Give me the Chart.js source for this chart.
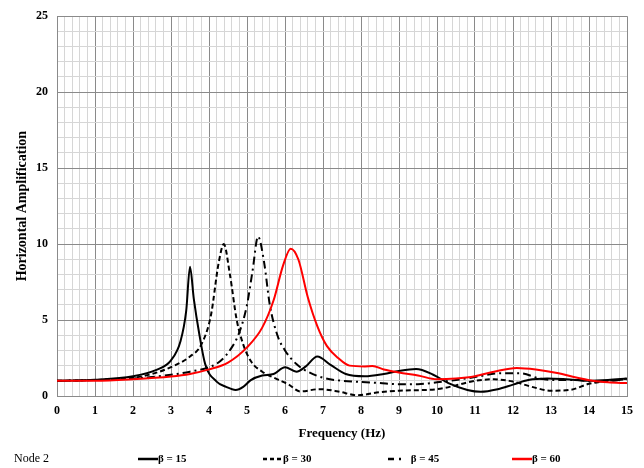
<!DOCTYPE html>
<html><head><meta charset="utf-8">
<script src="https://cdn.jsdelivr.net/npm/chart.js@4/dist/chart.umd.min.js"></script>
<style>
html,body{margin:0;padding:0;background:#fff;}
#wrap{position:relative;width:644px;height:468px;overflow:hidden;}
#c{position:absolute;left:0;top:0;}
.lg{position:absolute;top:450px;height:16px;font-family:"Liberation Serif",serif;font-size:11px;font-weight:bold;color:#000;line-height:16px;white-space:nowrap;}
.lg svg{vertical-align:middle;}
#node{position:absolute;left:14px;top:450px;font-family:"Liberation Serif",serif;font-size:12px;color:#000;line-height:16px;}
</style></head>
<body>
<div id="wrap">
<canvas id="c" width="644" height="468"></canvas>
<div id="node">Node 2</div>
<div class="lg" style="left:138px"><svg width="20" height="6"><line x1="0" y1="3" x2="20" y2="3" stroke="#000" stroke-width="2.5"/></svg><span>β = 15</span></div>
<div class="lg" style="left:263px"><svg width="20" height="6"><line x1="0" y1="3" x2="20" y2="3" stroke="#000" stroke-width="2.5" stroke-dasharray="4,3"/></svg><span>β = 30</span></div>
<div class="lg" style="left:388px"><svg width="20" height="6"><line x1="0" y1="3" x2="16" y2="3" stroke="#000" stroke-width="2.5" stroke-dasharray="6,5,2,5"/></svg><span>&nbsp;β = 45</span></div>
<div class="lg" style="left:512px"><svg width="20" height="6"><line x1="0" y1="3" x2="20" y2="3" stroke="#ff0000" stroke-width="2.5"/></svg><span>β = 60</span></div>
</div>
<script>
// β = 15
const freq15 = [0,1,2,2.6,3.0,3.25,3.4,3.5,3.6,3.75,3.9,4.2,4.45,4.7,4.9,5.1,5.4,5.7,6.0,6.3,6.55,6.85,7.2,7.6,8.1,8.6,9.0,9.45,9.9,10.3,10.8,11.15,11.6,12.0,12.4,12.9,13.4,14.0,14.5,15];
const amp15  = [1.0,1.07,1.3,1.7,2.35,3.6,5.6,8.5,6.4,4.0,2.1,0.95,0.6,0.4,0.6,1.05,1.35,1.45,1.9,1.6,1.95,2.6,2.05,1.45,1.3,1.45,1.65,1.77,1.4,0.85,0.4,0.28,0.45,0.75,1.05,1.15,1.1,1.0,1.05,1.15];
// β = 30
const freq30 = [0,1,2,2.5,3.0,3.5,3.8,4.05,4.25,4.39,4.55,4.73,4.9,5.1,5.4,5.8,6.1,6.4,6.9,7.4,7.9,8.5,9.0,10.0,10.5,11.0,11.5,12.0,12.5,13.0,13.5,14.0,14.5,15];
const amp30  = [1.0,1.05,1.2,1.45,1.9,2.6,3.4,5.3,8.7,10.0,8.0,5.0,3.4,2.3,1.6,1.1,0.75,0.3,0.45,0.3,0.05,0.25,0.35,0.45,0.7,1.0,1.1,0.95,0.6,0.35,0.4,0.8,1.0,1.1];
// β = 45
const freq45 = [0,1,2,3,3.5,4.0,4.3,4.6,4.8,5.0,5.15,5.29,5.45,5.6,5.8,6.0,6.3,6.6,7.0,7.5,8.0,8.5,9.0,9.5,10.0,10.5,11.0,11.7,12.2,12.7,13.2,13.7,14.2,14.6,15];
const amp45  = [1.0,1.05,1.15,1.4,1.6,1.9,2.3,3.2,4.2,6.0,8.3,10.5,8.8,6.0,4.0,3.0,2.1,1.6,1.2,1.0,0.93,0.85,0.78,0.78,0.9,1.05,1.25,1.5,1.5,1.15,1.05,1.05,0.95,1.0,1.15];
// β = 60
const freq60 = [0,1,2,3,3.5,4.0,4.5,5.0,5.4,5.7,5.95,6.15,6.35,6.6,6.85,7.1,7.4,7.7,8.1,8.3,8.6,9.0,9.5,10.0,10.5,11.0,11.5,12.1,12.6,13.2,13.6,14.1,14.5,15];
const amp60  = [1.0,1.0,1.1,1.28,1.45,1.75,2.2,3.2,4.5,6.3,8.6,9.7,9.0,6.5,4.6,3.3,2.5,2.0,1.95,1.97,1.75,1.55,1.35,1.1,1.15,1.3,1.6,1.85,1.75,1.5,1.25,1.0,0.9,0.85];

const seriesLabels = ['β = 15','β = 30','β = 45','β = 60'];
const xTitle = 'Frequency (Hz)';
const yTitle = 'Horizontal Amplification';

function pts(xs, ys){ return xs.map((x,i)=>({x:x, y:ys[i]})); }
function isInt(v){ return Math.abs(v - Math.round(v)) < 1e-6; }

const serif = '"Liberation Serif", "Times New Roman", serif';
const common = {fill:false, pointRadius:0, borderWidth:2, cubicInterpolationMode:'monotone'};

new Chart(document.getElementById('c'), {
  type:'line',
  data:{datasets:[
    Object.assign({label:seriesLabels[0], data:pts(freq15,amp15), borderColor:'#000000', order:3}, common),
    Object.assign({label:seriesLabels[1], data:pts(freq30,amp30), borderColor:'#000000', borderDash:[5,3], order:2}, common),
    Object.assign({label:seriesLabels[2], data:pts(freq45,amp45), borderColor:'#000000', borderDash:[8,4,2,4], order:1}, common),
    Object.assign({label:seriesLabels[3], data:pts(freq60,amp60), borderColor:'#ff0000', order:0}, common)
  ]},
  options:{
    responsive:false, animation:false, devicePixelRatio:1,
    layout:{padding:{left:0,right:17,top:14,bottom:22}},
    plugins:{legend:{display:false}, tooltip:{enabled:false}},
    scales:{
      x:{type:'linear', min:0, max:15,
        afterFit:(s)=>{s.height=50;},
        ticks:{stepSize:0.2, autoSkip:false, maxRotation:0, minRotation:0, padding:8, color:'#000',
          font:{family:serif, size:12, weight:'bold'},
          callback:(v)=> isInt(v) ? String(Math.round(v)) : ''},
        grid:{drawTicks:false, lineWidth:1, color:(ctx)=> (ctx.tick && isInt(ctx.tick.value)) ? '#8a8a8a' : '#d6d6d6'},
        border:{display:true, color:'#8a8a8a'},
        title:{display:true, text:xTitle, color:'#000', font:{family:serif, size:13, weight:'bold'}, padding:{top:0,bottom:5}}
      },
      y:{type:'linear', min:0, max:25,
        afterFit:(s)=>{s.width=57;},
        ticks:{stepSize:1, autoSkip:false, padding:9, color:'#000',
          font:{family:serif, size:12, weight:'bold'},
          callback:(v)=> (isInt(v) && Math.round(v)%5===0) ? String(Math.round(v)) : ''},
        grid:{drawTicks:false, lineWidth:1, color:(ctx)=> (ctx.tick && isInt(ctx.tick.value) && Math.round(ctx.tick.value)%5===0) ? '#8a8a8a' : '#d6d6d6'},
        border:{display:true, color:'#8a8a8a'},
        title:{display:true, text:yTitle, color:'#000', font:{family:serif, size:14, weight:'bold'}, padding:{top:14,bottom:0}}
      }
    }
  }
});
</script>
</body></html>
